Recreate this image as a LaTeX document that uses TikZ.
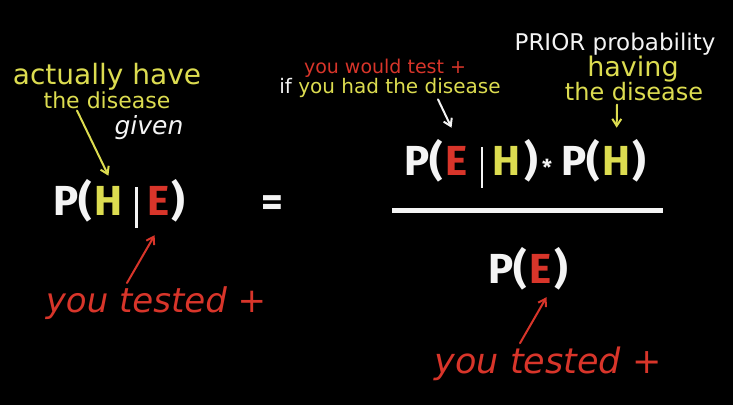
\documentclass[tikz,border=0pt]{standalone}
\usepackage{fontspec}
\usepackage{xcolor}
\usetikzlibrary{arrows.meta,positioning,calc}
\newfontfamily\formulafont{Fira Sans}
\newfontfamily\notefont{DejaVu Sans}
\definecolor{chalk}{HTML}{F4F4F4}
\definecolor{hypyellow}{HTML}{DCDC50}
\definecolor{evred}{HTML}{D8352A}
\newcommand{\givenbar}{\kern0.3em\rule[-0.3em]{0.06em}{0.97em}\kern0.22em}

\begin{document}
\begin{tikzpicture}[x=1pt, y=-1pt,
  bigsym/.style={inner sep=0pt, text=chalk, font=\formulafont\bfseries\fontsize{42}{42}\selectfont},
  hyp/.style={text=hypyellow},
  ev/.style={text=evred},
  note/.style={inner sep=0pt, anchor=base, font=\notefont\fontsize{#1}{#1}\selectfont},
  noteit/.style={inner sep=0pt, anchor=base, font=\notefont\itshape\fontsize{#1}{#1}\selectfont},
  arr/.style={-{Straight Barb[length=7pt, width=9pt]}, line width=2pt, line cap=round},
  fracline/.style={line width=5pt, chalk}
]
  \fill[black] (0,0) rectangle (733,405);

  % left side: P(H|E)
  \node[bigsym, anchor=base west] (postP) at (53,215) {P(};
  \node[bigsym, hyp, anchor=base west] (postH) at ([xshift=2pt]postP.base east) {H};
  \node[bigsym, anchor=base west] (postBar) at (postH.base east) {\givenbar};
  \node[bigsym, ev, anchor=base west] (postE) at (postBar.base east) {E};
  \node[bigsym, anchor=base west] (postClose) at ([xshift=1pt]postE.base east) {)};

  \node[bigsym, anchor=base] (equals) at (272,216) {=};

  \node[note=28, text=hypyellow] (actually) at (107,84) {actually have};
  \node[note=22, text=hypyellow] (diseaseL) at (107,108) {the disease};
  \node[noteit=25, text=chalk] (given) at (149,134) {given};
  \node[noteit=34, text=evred] (testedL) at (156,312) {you tested +};

  % right side: numerator
  \node[bigsym, anchor=base west] (likP) at (404,175) {P(};
  \node[bigsym, ev, anchor=base west] (likE) at ([xshift=2pt]likP.base east) {E};
  \node[bigsym, anchor=base west] (likBar) at (likE.base east) {\givenbar};
  \node[bigsym, hyp, anchor=base west] (likH) at (likBar.base east) {H};
  \node[bigsym, anchor=base west] (likClose) at ([xshift=3pt]likH.base east) {)};
  \node[bigsym, anchor=base west, font=\formulafont\bfseries\fontsize{22}{22}\selectfont] (star) at ([xshift=4pt]likClose.base east) {*};
  \node[bigsym, anchor=base west] (priorP) at ([xshift=9pt]star.base east) {P(};
  \node[bigsym, hyp, anchor=base west] (priorH) at ([xshift=2pt]priorP.base east) {H};
  \node[bigsym, anchor=base west] (priorClose) at ([xshift=1pt]priorH.base east) {)};

  \coordinate (barL) at (392,210);
  \coordinate (barR) at (663,210);
  \draw[fracline] (barL) -- (barR);

  % denominator
  \node[bigsym, anchor=base west] (evP) at (488,283) {P(};
  \node[bigsym, ev, anchor=base west] (evE) at ([xshift=2pt]evP.base east) {E};
  \node[bigsym, anchor=base west] (evClose) at ([xshift=3pt]evE.base east) {)};

  \node[note=19, text=evred] (wouldTest) at (385,73) {you would test +};
  \node[note=20, text=hypyellow] (hadDisease) at (390,93) {\textcolor{chalk}{if} you had the disease};
  \node[note=23, text=chalk] (prior) at (615,50) {PRIOR probability};
  \node[note=27, text=hypyellow] (having) at (633,76) {having};
  \node[note=24, text=hypyellow] (diseaseR) at (634,100) {the disease};
  \node[noteit=35, text=evred] (testedR) at (548,373) {you tested +};

  % pointers
  \draw[arr, hypyellow] ([xshift=-30pt, yshift=-2pt]diseaseL.south) -- ([yshift=10pt]postH.north);
  \draw[arr, evred] ([xshift=-29pt, yshift=3pt]testedL.north) -- ([xshift=-4pt, yshift=-20pt]postE.south);
  \draw[arr, chalk] ([xshift=48pt, yshift=-2pt]hadDisease.south) -- ([xshift=-5pt, yshift=18pt]likE.north);
  \draw[arr, hypyellow] ([xshift=-17pt, yshift=-4pt]diseaseR.south) -- ([yshift=18pt]priorH.north);
  \draw[arr, evred] ([xshift=-28pt, yshift=3pt]testedR.north) -- ([xshift=6pt, yshift=-14pt]evE.south);
\end{tikzpicture}
\end{document}
